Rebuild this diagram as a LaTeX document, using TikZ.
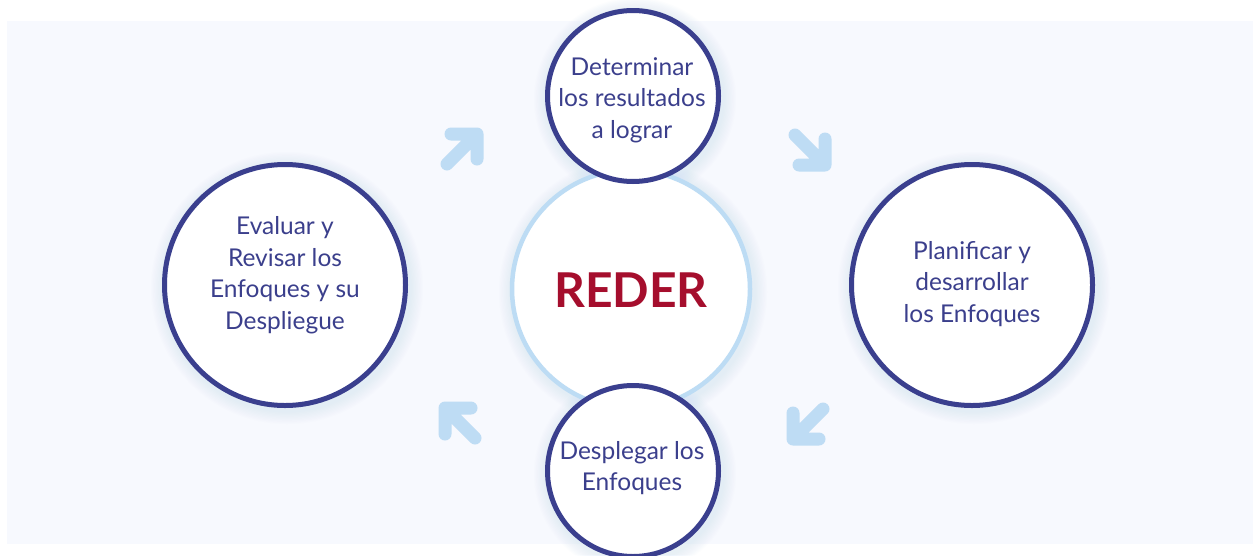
\documentclass[tikz,border=0pt]{standalone}
\usepackage{fontspec}
\setmainfont{Lato}
\definecolor{bgcol}{HTML}{F7F9FE}
\definecolor{ringcol}{HTML}{3A3F8E}
\definecolor{txtcol}{HTML}{3B3F8C}
\definecolor{lightring}{HTML}{BDDCF4}
\definecolor{arrowcol}{HTML}{BEDCF4}
\definecolor{glowcol}{HTML}{C9DEF5}
\definecolor{redercol}{HTML}{A50E2D}
\tikzset{
  ringnode/.style={circle, draw=ringcol, line width=5pt, fill=white, inner sep=0pt},
  centernode/.style={circle, draw=lightring, line width=4.5pt, fill=white, inner sep=0pt},
  label text/.style={text=txtcol, align=center, font=\fontsize{24.5}{31.5}\selectfont},
  bigarrow/.style={draw=arrowcol, line width=13pt, line cap=round, line join=round},
}
\newcommand{\glowat}[3]{%
  \foreach \i in {1,...,10}{\fill[glowcol, opacity=0.045] (#1+2,#2+3) circle[radius=#3pt+\i*1.3pt];}}
\begin{document}
\begin{tikzpicture}[x=1pt,y=-1pt]
\useasboundingbox (0,0) rectangle (1253,555);
\fill[white] (0,0) rectangle (1253,555);
\fill[bgcol] (7,21) rectangle (1253,544);
% glows
\glowat{631}{289}{121}
\glowat{285}{285}{123}
\glowat{972}{285}{123}
\glowat{633}{96}{88}
\glowat{633}{471}{88}
% center
\node[centernode, minimum size=238pt] (reder) at (631,289) {};
\node[text=redercol, font=\fontsize{48}{52}\selectfont\bfseries] (redert) at (631,290) {REDER};
% outer circles
\node[ringnode, minimum size=171pt] (top) at (633,96) {};
\node[ringnode, minimum size=171pt] (bot) at (633,471) {};
\node[ringnode, minimum size=241pt] (left) at (285,285) {};
\node[ringnode, minimum size=241pt] (right) at (972,285) {};
% texts
\node[label text] (topt) at (632,100) {Determinar\\los resultados\\a lograr};
\node[label text] (bott) at (632,468) {Desplegar los\\Enfoques};
\node[label text] (leftt) at (285,275) {Evaluar y\\Revisar los\\Enfoques y su\\Despliegue};
\node[label text] (rightt) at (972,284) {Planificar y\\desarrollar\\los Enfoques};
% arrows
\draw[bigarrow] (447,164) -- (477,134) (451,134) -- (477,134) -- (477,159);
\draw[bigarrow] (795,135) -- (825,165) (825,139) -- (825,165) -- (799,165);
\draw[bigarrow] (823,409) -- (793,439) (793,413) -- (793,439) -- (819,439);
\draw[bigarrow] (475,438) -- (445,408) (471,408) -- (445,408) -- (445,434);
\end{tikzpicture}
\end{document}
